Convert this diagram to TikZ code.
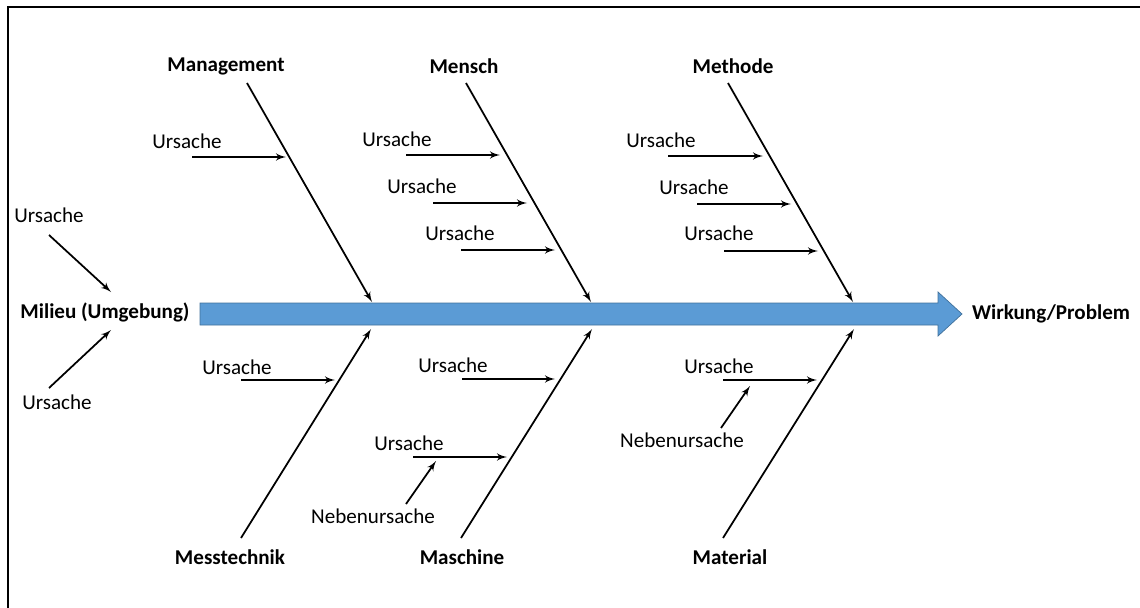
\documentclass[tikz,border=0pt]{standalone}
\usepackage{fontspec}
\setmainfont{Carlito}
\usepackage{xcolor}
\usepackage{tikz}
\usetikzlibrary{arrows}
\definecolor{spineblue}{HTML}{5B9BD5}
\definecolor{spineedge}{HTML}{41719C}
\tikzset{edge/.style = {->,> = latex'}}

\begin{document}
\begin{tikzpicture}[x=0.02cm,y=-0.02cm,line width=1pt,
    cause/.style={inner sep=0pt,font=\fontsize{12}{14}\selectfont},
    main cause/.style={inner sep=0pt,font=\fontsize{12}{14}\selectfont\bfseries}]
                    \useasboundingbox (0,0) rectangle (1140,608);
                    \draw[line width=1.2pt] (8,608) -- (8,7) -- (1140,7);

                    % spine
                    \filldraw[fill=spineblue,draw=spineedge,line width=0.4pt]
                      (200,303) -- (938,303) -- (938,292) -- (962,314) -- (938,336) -- (938,325) -- (200,325) -- cycle;
                    \node[main cause] (milieu) at (105,312) {Milieu (Umgebung)};
                    \node[main cause] (wirkung) at (1051,314) {Wirkung/Problem};

                    % main causes
                    \node[main cause] (mgmt) at (226,66) {Management};
                    \node[main cause] (mensch) at (464,66) {Mensch};
                    \node[main cause] (methode) at (733,66) {Methode};
                    \node[main cause] (mess) at (230,557) {Messtechnik};
                    \node[main cause] (masch) at (462,557) {Maschine};
                    \node[main cause] (mat) at (730,557) {Material};

                    \coordinate (mgmt a) at (247,83);   \coordinate (mgmt b) at (372,302);
                    \coordinate (mensch a) at (466,83); \coordinate (mensch b) at (591,302);
                    \coordinate (methode a) at (728,83); \coordinate (methode b) at (853,302);
                    \coordinate (mess a) at (241,538);  \coordinate (mess b) at (371,329);
                    \coordinate (masch a) at (461,538); \coordinate (masch b) at (592,329);
                    \coordinate (mat a) at (723,538);   \coordinate (mat b) at (854,329);

                    \path[edge] (mgmt a) edge (mgmt b);
                    \path[edge] (mensch a) edge (mensch b);
                    \path[edge] (methode a) edge (methode b);
                    \path[edge] (mess a) edge (mess b);
                    \path[edge] (masch a) edge (masch b);
                    \path[edge] (mat a) edge (mat b);

                    % causes
                    \node[cause] (u1) at (187,141) {Ursache};
                    \node[cause] (u2) at (397,139) {Ursache};
                    \node[cause] (u3) at (422,186) {Ursache};
                    \node[cause] (u4) at (460,233) {Ursache};
                    \node[cause] (u5) at (661,140) {Ursache};
                    \node[cause] (u6) at (694,187) {Ursache};
                    \node[cause] (u7) at (719,233) {Ursache};
                    \node[cause] (u8) at (237,367) {Ursache};
                    \node[cause] (u9) at (453,365) {Ursache};
                    \node[cause] (u10) at (409,443) {Ursache};
                    \node[cause] (u11) at (719,366) {Ursache};
                    \node[cause] (ul1) at (49,215) {Ursache};
                    \node[cause] (ul2) at (57,402) {Ursache};
                    \node[cause] (n1) at (373,516) {Nebenursache};
                    \node[cause] (n2) at (682,440) {Nebenursache};

                    \coordinate (u1 a) at (192,157);  \coordinate (u1 b) at (286,157);
                    \coordinate (u2 a) at (406,155);  \coordinate (u2 b) at (500,155);
                    \coordinate (u3 a) at (433,203);  \coordinate (u3 b) at (527,203);
                    \coordinate (u4 a) at (461,250);  \coordinate (u4 b) at (555,250);
                    \coordinate (u5 a) at (668,156);  \coordinate (u5 b) at (763,156);
                    \coordinate (u6 a) at (697,204);  \coordinate (u6 b) at (791,204);
                    \coordinate (u7 a) at (724,251);  \coordinate (u7 b) at (818,251);
                    \coordinate (u8 a) at (241,380);  \coordinate (u8 b) at (335,380);
                    \coordinate (u9 a) at (462,379);  \coordinate (u9 b) at (555,379);
                    \coordinate (u10 a) at (413,457); \coordinate (u10 b) at (507,457);
                    \coordinate (u11 a) at (723,380); \coordinate (u11 b) at (817,380);
                    \coordinate (ul1 a) at (49,235);  \coordinate (ul1 b) at (111,292);
                    \coordinate (ul2 a) at (49,388);  \coordinate (ul2 b) at (111,330);
                    \coordinate (n1 a) at (406,504);  \coordinate (n1 b) at (436,461);
                    \coordinate (n2 a) at (721,428);  \coordinate (n2 b) at (750,386);

                    \path[edge] (u1 a) edge (u1 b);
                    \path[edge] (u2 a) edge (u2 b);
                    \path[edge] (u3 a) edge (u3 b);
                    \path[edge] (u4 a) edge (u4 b);
                    \path[edge] (u5 a) edge (u5 b);
                    \path[edge] (u6 a) edge (u6 b);
                    \path[edge] (u7 a) edge (u7 b);
                    \path[edge] (u8 a) edge (u8 b);
                    \path[edge] (u9 a) edge (u9 b);
                    \path[edge] (u10 a) edge (u10 b);
                    \path[edge] (u11 a) edge (u11 b);
                    \path[edge] (ul1 a) edge (ul1 b);
                    \path[edge] (ul2 a) edge (ul2 b);
                    \path[edge] (n1 a) edge (n1 b);
                    \path[edge] (n2 a) edge (n2 b);
                \end{tikzpicture}
\end{document}
